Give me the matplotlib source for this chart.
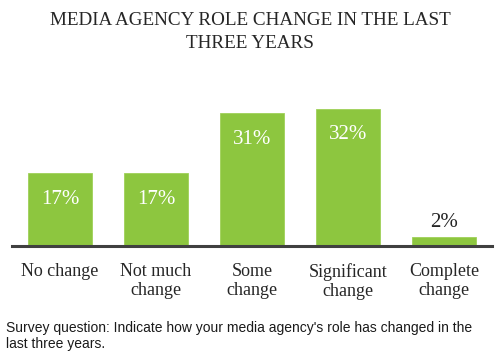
import matplotlib
matplotlib.use('Agg')
import matplotlib.pyplot as plt

# --- data ---
categories = ['No change', 'Not much\nchange', 'Some\nchange', 'Significant\nchange', 'Complete\nchange']
values = [17, 17, 31, 32, 2]
labels = ['17%', '17%', '31%', '32%', '2%']

green = '#8dc63f'
serif = 'Liberation Serif'

fig = plt.figure(figsize=(5, 3.55), dpi=100)
ax = fig.add_axes([12 / 500, 1 - 246 / 355, 480 / 500, 146 / 355])

x = range(len(values))
ax.bar(x, values, width=0.667, color=green, edgecolor='#9fd158', linewidth=0.6, zorder=2)
ax.set_xlim(-0.5, 4.5)
ax.set_ylim(0, 34)

# value labels: inside bar (white) when tall, above bar otherwise
for i, (v, lab) in enumerate(zip(values, labels)):
    if v > 5:
        ax.annotate(lab, (i, v), xytext=(0, -19), textcoords='offset points',
                    ha='center', va='center', color='white', fontsize=15, family=serif)
    else:
        ax.annotate(lab, (i, v), xytext=(0, 11), textcoords='offset points',
                    ha='center', va='center', color='#262626', fontsize=15, family=serif)

for s in ['top', 'right', 'left']:
    ax.spines[s].set_visible(False)
ax.spines['bottom'].set_color('#404040')
ax.spines['bottom'].set_linewidth(2.2)
ax.set_yticks([])
ax.set_xticks(list(x))
ax.set_xticklabels(categories, family=serif, fontsize=13, color='#262626', linespacing=1.2)
ax.tick_params(axis='x', length=0, pad=12)

fig.text(0.5, 1 - 32 / 355, 'MEDIA AGENCY ROLE CHANGE IN THE LAST\nTHREE YEARS',
         ha='center', va='center', family=serif, fontsize=13.8, color='#262626', linespacing=1.4)

fig.text(6 / 500, 1 - 336 / 355,
         "Survey question: Indicate how your media agency's role has changed in the\nlast three years.",
         ha='left', va='center', family='Liberation Sans', fontsize=10, color='#1a1a1a', linespacing=1.15)

fig.savefig('out.png', dpi=100, facecolor='white')
